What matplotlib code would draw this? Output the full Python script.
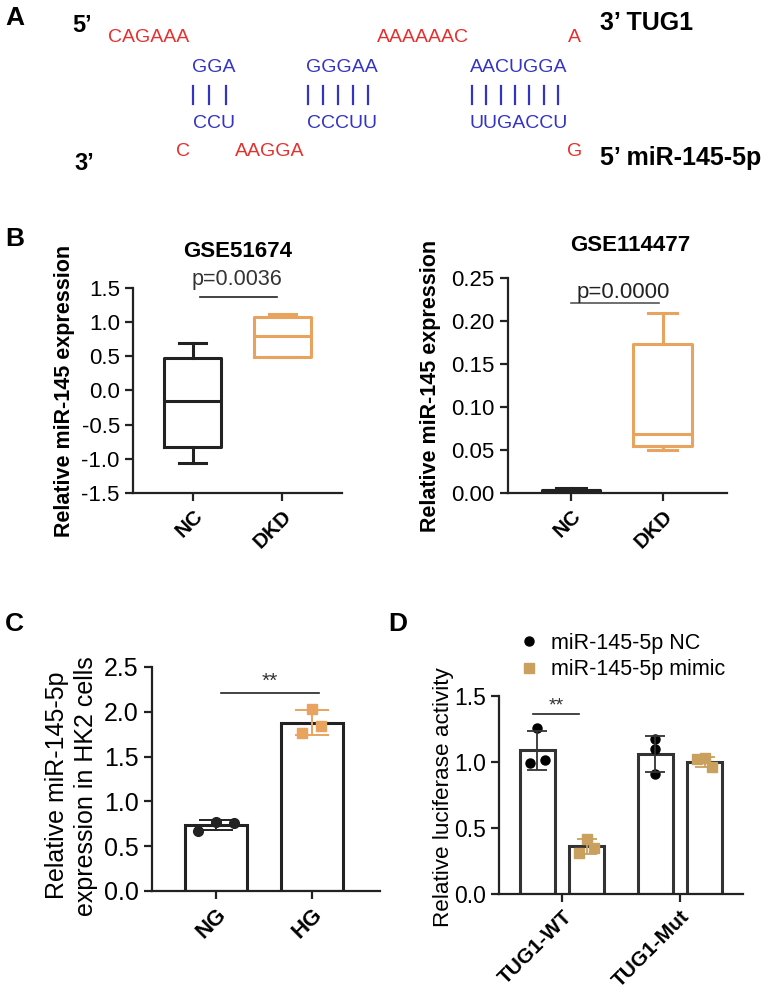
import numpy as np
import matplotlib
matplotlib.use("Agg")
import matplotlib.pyplot as plt
from matplotlib.lines import Line2D

plt.rcParams['font.family'] = ['Liberation Sans', 'DejaVu Sans']

W, H = 771, 997

# ---- panel A: sequences
tug1_loops = ["CAGAAA", "AAAAAAC", "A"]
tug1_pairs = ["GGA", "GGGAA", "AACUGGA"]
mir_pairs = ["CCU", "CCCUU", "UUGACCU"]
mir_loops = ["C", "AAGGA", "G"]

# ---- panel B: box stats [whislo, q1, med, q3, whishi]
b1_groups = ["NC", "DKD"]
b1_nc = [-1.06, -0.83, -0.155, 0.475, 0.69]
b1_dkd = [0.49, 0.49, 0.80, 1.07, 1.12]
b1_p = "p=0.0036"
b2_nc = [0.0005, 0.001, 0.003, 0.004, 0.006]
b2_dkd = [0.050, 0.055, 0.069, 0.173, 0.209]
b2_p = "p=0.0000"

# ---- panel C
c_groups = ["NG", "HG"]
c_ng = [0.67, 0.77, 0.76]
c_hg = [2.03, 1.84, 1.76]

# ---- panel D
d_groups = ["TUG1-WT", "TUG1-Mut"]
d_nc = [[1.258, 0.992, 1.015], [1.175, 1.10, 0.91]]
d_mimic = [[0.42, 0.31, 0.35], [1.03, 1.02, 0.96]]

RED = '#E5302E'
BLUE = '#3434C4'
ORANGE = '#E8A45E'
TAN = '#C9A05E'
DARK = '#222222'


def fx(x):
    return x / W


def fy(y):
    return 1 - y / H


def ax_at(x0, x1, ytop, ybot):
    return fig.add_axes([fx(x0), fy(ybot), (x1 - x0) / W, (ybot - ytop) / H])


def style(ax, lw=1.6):
    for s in ['top', 'right']:
        ax.spines[s].set_visible(False)
    for s in ['left', 'bottom']:
        ax.spines[s].set_linewidth(lw)
        ax.spines[s].set_color(DARK)
    ax.tick_params(direction='out', length=6, width=lw, color=DARK)


fig = plt.figure(figsize=(W / 100, H / 100), dpi=100)

# ================= A =================
fig.text(fx(15), fy(18), "A", fontsize=19, fontweight='bold', ha='center', va='center')
fig.text(fx(82), fy(25), "5’", fontsize=17, fontweight='bold', ha='center', va='center')
fig.text(fx(84), fy(163), "3’", fontsize=17, fontweight='bold', ha='center', va='center')
fig.text(fx(600), fy(23), "3’ TUG1", fontsize=18, fontweight='bold', ha='left', va='center')
fig.text(fx(600), fy(158), "5’ miR-145-5p", fontsize=18, fontweight='bold', ha='left', va='center')

for s, xc in zip(tug1_loops, [149, 423, 574]):
    fig.text(fx(xc), fy(37), s, fontsize=14, color=RED, ha='center', va='center')
for s, xc in zip(mir_loops, [183, 270, 575]):
    fig.text(fx(xc), fy(151), s, fontsize=14, color=RED, ha='center', va='center')
for s, xc in zip(tug1_pairs, [214, 342, 519]):
    fig.text(fx(xc), fy(67), s, fontsize=14, color=BLUE, ha='center', va='center')
for s, xc in zip(mir_pairs, [214, 342, 519]):
    fig.text(fx(xc), fy(123), s, fontsize=14, color=BLUE, ha='center', va='center')
for s, (a, b) in zip(tug1_pairs, [(193, 226), (308, 368), (472, 558)]):
    for xb in np.linspace(a, b, len(s)):
        fig.add_artist(Line2D([fx(xb), fx(xb)], [fy(86), fy(104)], color=BLUE, lw=1.6,
                              transform=fig.transFigure))

# ================= B left =================
fig.text(fx(15), fy(239), "B", fontsize=19, fontweight='bold', ha='center', va='center')
ax = ax_at(133, 342, 288, 493)
style(ax)


def boxes(ax, stats_list, colors, capw):
    st = [dict(whislo=s[0], q1=s[1], med=s[2], q3=s[3], whishi=s[4], label=g)
          for s, g in zip(stats_list, b1_groups)]
    for i, (d, c) in enumerate(zip(st, colors)):
        ax.bxp([d], positions=[i], widths=0.64, capwidths=capw, showfliers=False,
               boxprops=dict(color=c, lw=2.2), medianprops=dict(color=c, lw=2.2),
               whiskerprops=dict(color=c, lw=2.2), capprops=dict(color=c, lw=2.2))


boxes(ax, [b1_nc, b1_dkd], [DARK, ORANGE], 0.3)
ax.set_xlim(-0.67, 1.67)
ax.set_ylim(-1.5, 1.5)
ax.set_yticks(np.arange(-1.5, 1.51, 0.5))
ax.set_yticklabels([f"{v:.1f}" for v in np.arange(-1.5, 1.51, 0.5)], fontsize=16)
ax.set_xticks([0, 1])
ax.set_xticklabels(b1_groups, fontsize=15, fontweight='bold', rotation=45, ha='right',
                   va='top', rotation_mode='anchor')
ax.set_ylabel("Relative miR-145 expression", fontsize=15.5, fontweight='bold')
ax.yaxis.set_label_coords((75 - 133) / 209, 0.5)
ax.text(0.5, 1.176, "GSE51674", transform=ax.transAxes, fontsize=16, fontweight='bold',
        ha='center', va='center')
ax.plot([0.08, 0.94], [1.37, 1.37], color=DARK, lw=1.2, clip_on=False)
ax.text(0.49, 1.62, b1_p, fontsize=15.5, ha='center', va='center', color='#333333')

# ================= B right =================
ax = ax_at(508, 727, 278, 493)
style(ax)
boxes(ax, [b2_nc, b2_dkd], [DARK, ORANGE], 0.32)
ax.set_xlim(-0.685, 1.70)
ax.set_ylim(0, 0.25)
ax.set_yticks(np.arange(0, 0.251, 0.05))
ax.set_yticklabels([f"{v:.2f}" for v in np.arange(0, 0.251, 0.05)], fontsize=16)
ax.set_xticks([0, 1])
ax.set_xticklabels(b1_groups, fontsize=15, fontweight='bold', rotation=45, ha='right',
                   va='top', rotation_mode='anchor')
ax.set_ylabel("Relative miR-145 expression", fontsize=15.5, fontweight='bold')
ax.yaxis.set_label_coords((441 - 508) / 219, 0.5)
ax.text((630 - 508) / 219, 1.153, "GSE114477", transform=ax.transAxes, fontsize=16,
        fontweight='bold', ha='center', va='center')
ax.plot([0.0, 0.957], [0.221, 0.221], color='#555555', lw=1.2, clip_on=False)
ax.text(0.565, 0.2326, b2_p, fontsize=16, ha='center', va='center', color='#222222')

# ================= C =================
fig.text(fx(14), fy(624), "C", fontsize=19, fontweight='bold', ha='center', va='center')
ax = ax_at(152, 380, 667, 891)
style(ax)
c_vals = [c_ng, c_hg]
c_cols = [DARK, ORANGE]
c_marks = ['o', 's']
c_jit = [[-0.19, 0, 0.19], [0, 0.1, -0.1]]
for i, (v, col, m, j) in enumerate(zip(c_vals, c_cols, c_marks, c_jit)):
    mu, sd = np.mean(v), np.std(v, ddof=1)
    ax.bar(i, mu, width=0.65, color='white', edgecolor=DARK, lw=2.2, zorder=2)
    ax.plot(i + np.array(j), v, m, color=col, ms=7, zorder=3, ls='none')
    ax.errorbar(i, mu, yerr=sd, color=col, capsize=12, capthick=1.4, elinewidth=1.4,
                zorder=4, fmt='none')
ax.set_xlim(-0.667, 1.71)
ax.set_ylim(0, 2.5)
ax.set_yticks(np.arange(0, 2.51, 0.5))
ax.set_yticklabels([f"{v:.1f}" for v in np.arange(0, 2.51, 0.5)], fontsize=18)
ax.set_xticks([0, 1])
ax.set_xticklabels(c_groups, fontsize=16, fontweight='bold', rotation=45, ha='right',
                   va='top', rotation_mode='anchor')
ax.set_ylabel("Relative miR-145-5p\nexpression in HK2 cells", fontsize=18, linespacing=1.25)
ax.yaxis.set_label_coords((98 - 152) / 228, 0.47)
ax.plot([0.05, 1.07], [2.21, 2.21], color=DARK, lw=1.2)
ax.text(0.56, 2.23, "**", fontsize=15, ha='center', va='bottom', color='#333333')

# ================= D =================
fig.text(fx(398), fy(624), "D", fontsize=19, fontweight='bold', ha='center', va='center')
ax = ax_at(499, 743, 696, 894)
style(ax)
off = 0.21
jit = [-0.064, 0, 0.064]
for g in range(len(d_groups)):
    for k, (vals, col, m) in enumerate([(d_nc[g], 'black', 'o'), (d_mimic[g], TAN, 's')]):
        x = g + (-off if k == 0 else off)
        mu, sd = np.mean(vals), np.std(vals, ddof=1)
        ax.bar(x, mu, width=0.3, color='white', edgecolor='#333333', lw=2.2, zorder=2)
        if g == 1 and k == 0:
            xs = [x, x, x]
        else:
            xs = [x + jit[1], x + jit[0], x + jit[2]]
        ax.plot(xs, vals, m, color=col, ms=6.5, zorder=3, ls='none')
        ax.errorbar(x, mu, yerr=sd, color='#333333' if k == 0 else TAN, capsize=7,
                    capthick=1.3, elinewidth=1.3, zorder=4, fmt='none')
ax.set_xlim(-0.534, 1.534)
ax.set_ylim(0, 1.5)
ax.set_yticks([0, 0.5, 1.0, 1.5])
ax.set_yticklabels(["0.0", "0.5", "1.0", "1.5"], fontsize=16.5)
ax.set_xticks([0, 1])
ax.set_xticklabels(d_groups, fontsize=15, fontweight='bold', rotation=45, ha='right',
                   va='top', rotation_mode='anchor')
ax.set_ylabel("Relative luciferase activity", fontsize=16.2)
ax.yaxis.set_label_coords((454 - 499) / 244, 0.49)
ax.plot([-0.25, 0.14], [1.36, 1.36], color=DARK, lw=1.2)
ax.text(-0.045, 1.36, "**", fontsize=14, ha='center', va='bottom', color='#333333')

h1 = Line2D([], [], marker='o', color='black', ls='none', ms=6.5)
h2 = Line2D([], [], marker='s', color=TAN, ls='none', ms=6.5)
fig.legend([h1, h2], ["miR-145-5p NC", "miR-145-5p mimic"], loc='upper left',
           bbox_to_anchor=(fx(510), fy(622)), frameon=False, fontsize=15.5,
           handlelength=0.8, handletextpad=0.6, labelspacing=0.25, borderpad=0)

fig.savefig("out.png", dpi=100)
